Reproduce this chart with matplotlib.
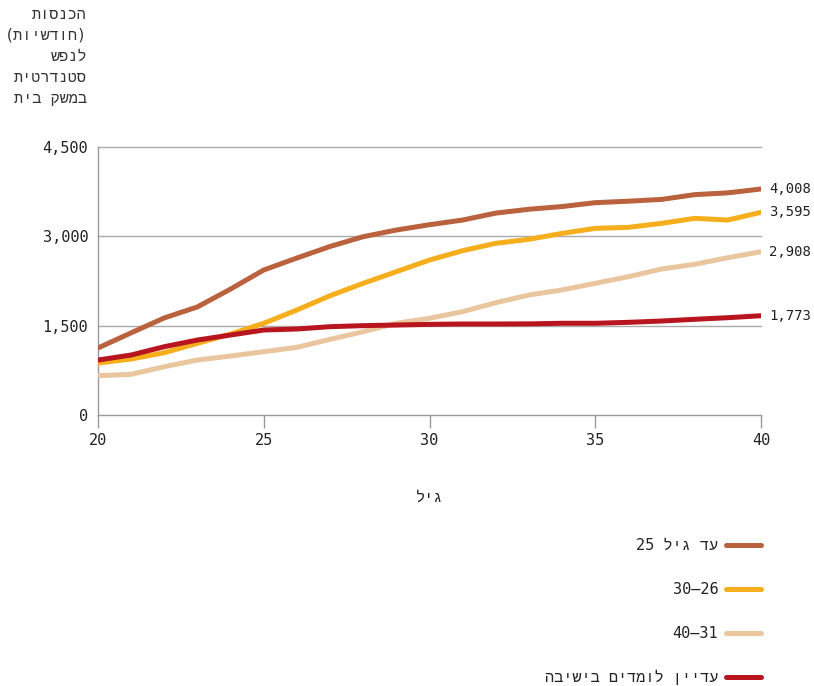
import matplotlib
matplotlib.use("Agg")
import matplotlib.pyplot as plt
import numpy as np

# DejaVu Sans Mono for digits, Liberation Mono picks up the hebrew glyphs
plt.rcParams['font.family'] = ['DejaVu Sans Mono', 'Liberation Mono', 'DejaVu Sans']

# data
age = list(range(20, 41))
upto25 = [1125, 1380, 1630, 1815, 2115, 2435, 2636, 2830, 2994, 3106, 3195, 3274,
          3390, 3455, 3500, 3565, 3590, 3620, 3700, 3730, 3795]
age26_30 = [873, 940, 1046, 1204, 1360, 1540, 1763, 2003, 2211, 2406, 2602, 2759,
            2883, 2950, 3050, 3134, 3151, 3218, 3302, 3274, 3403]
age31_40 = [660, 683, 811, 923, 990, 1063, 1136, 1270, 1399, 1540, 1624, 1735,
            1886, 2015, 2100, 2211, 2323, 2451, 2530, 2641, 2742]
yeshiva = [923, 1007, 1147, 1259, 1343, 1427, 1444, 1483, 1500, 1511, 1522, 1528,
           1528, 1530, 1540, 1540, 1556, 1578, 1607, 1634, 1667]
end_labels = ["4,008", "3,595", "2,908", "1,773"]

# matplotlib has no bidi, so hebrew goes in visual (reversed) order
def heb(s):
    return s[::-1]

legend_labels = ["25 " + heb("עד גיל"), "30\u201326", "40\u201331", heb("עדיין לומדים בישיבה")]
colors = ["#BA623D", "#F7AE1C", "#EAC69F", "#B9151F"]
series = [upto25, age26_30, age31_40, yeshiva]

yticks = [0, 1500, 3000, 4500]
xticks = [20, 25, 30, 35, 40]

fig = plt.figure(figsize=(8.14, 6.86), dpi=100)
ax = fig.add_axes([98/814, 1-415/686, (761-98)/814, (415-147)/686])

handles = []
for vals, c, lab in zip(series, colors, legend_labels):
    h, = ax.plot(age, vals, color=c, lw=3.6, solid_capstyle='round', zorder=3, label=lab)
    handles.append(h)

for vals, txt in zip(series, end_labels):
    ax.annotate(txt, (age[-1], vals[-1]), xytext=(6, 0), textcoords='offset points',
                va='center', ha='left', fontsize=10, color='#222222', annotation_clip=False)

ax.set_xlim(20, 40)
ax.set_ylim(0, 4500)
ax.set_xticks(xticks)
ax.set_yticks(yticks)
ax.set_yticklabels([f"{v:,}" for v in yticks])
ax.tick_params(axis='x', length=9, width=1, color='#999999', pad=4, labelsize=11, labelcolor='#222222')
ax.tick_params(axis='y', length=0, pad=7, labelsize=11, labelcolor='#222222')
for g in [1500, 3000, 4500]:
    ax.axhline(g, color='#AAAAAA', lw=1, zorder=1, clip_on=False)
for s in ['top', 'right']:
    ax.spines[s].set_visible(False)
for s in ['left', 'bottom']:
    ax.spines[s].set_color('#999999')
    ax.spines[s].set_linewidth(1)
ax.spines['left'].set_bounds(0, 4500)

ax.set_xlabel(heb("גיל"), fontsize=11, color='#222222', labelpad=30)

ylab = [heb("הכנסות"), "(" + heb("חודשיות") + ")", heb("לנפש"), heb("סטנדרטית"), heb("במשק בית")]
fig.text(87/814, 1-7/686, "\n".join(ylab), ha='right', va='top', fontsize=11,
         color='#333333', linespacing=1.5)

fig.legend(handles=handles, loc='upper right', bbox_to_anchor=(761/814, 1-538/686),
           frameon=False, markerfirst=False, fontsize=11, labelspacing=1.9,
           handlelength=2.3, handletextpad=0.5, borderpad=0, borderaxespad=0,
           labelcolor='#222222')

fig.savefig("out.png", dpi=100)
